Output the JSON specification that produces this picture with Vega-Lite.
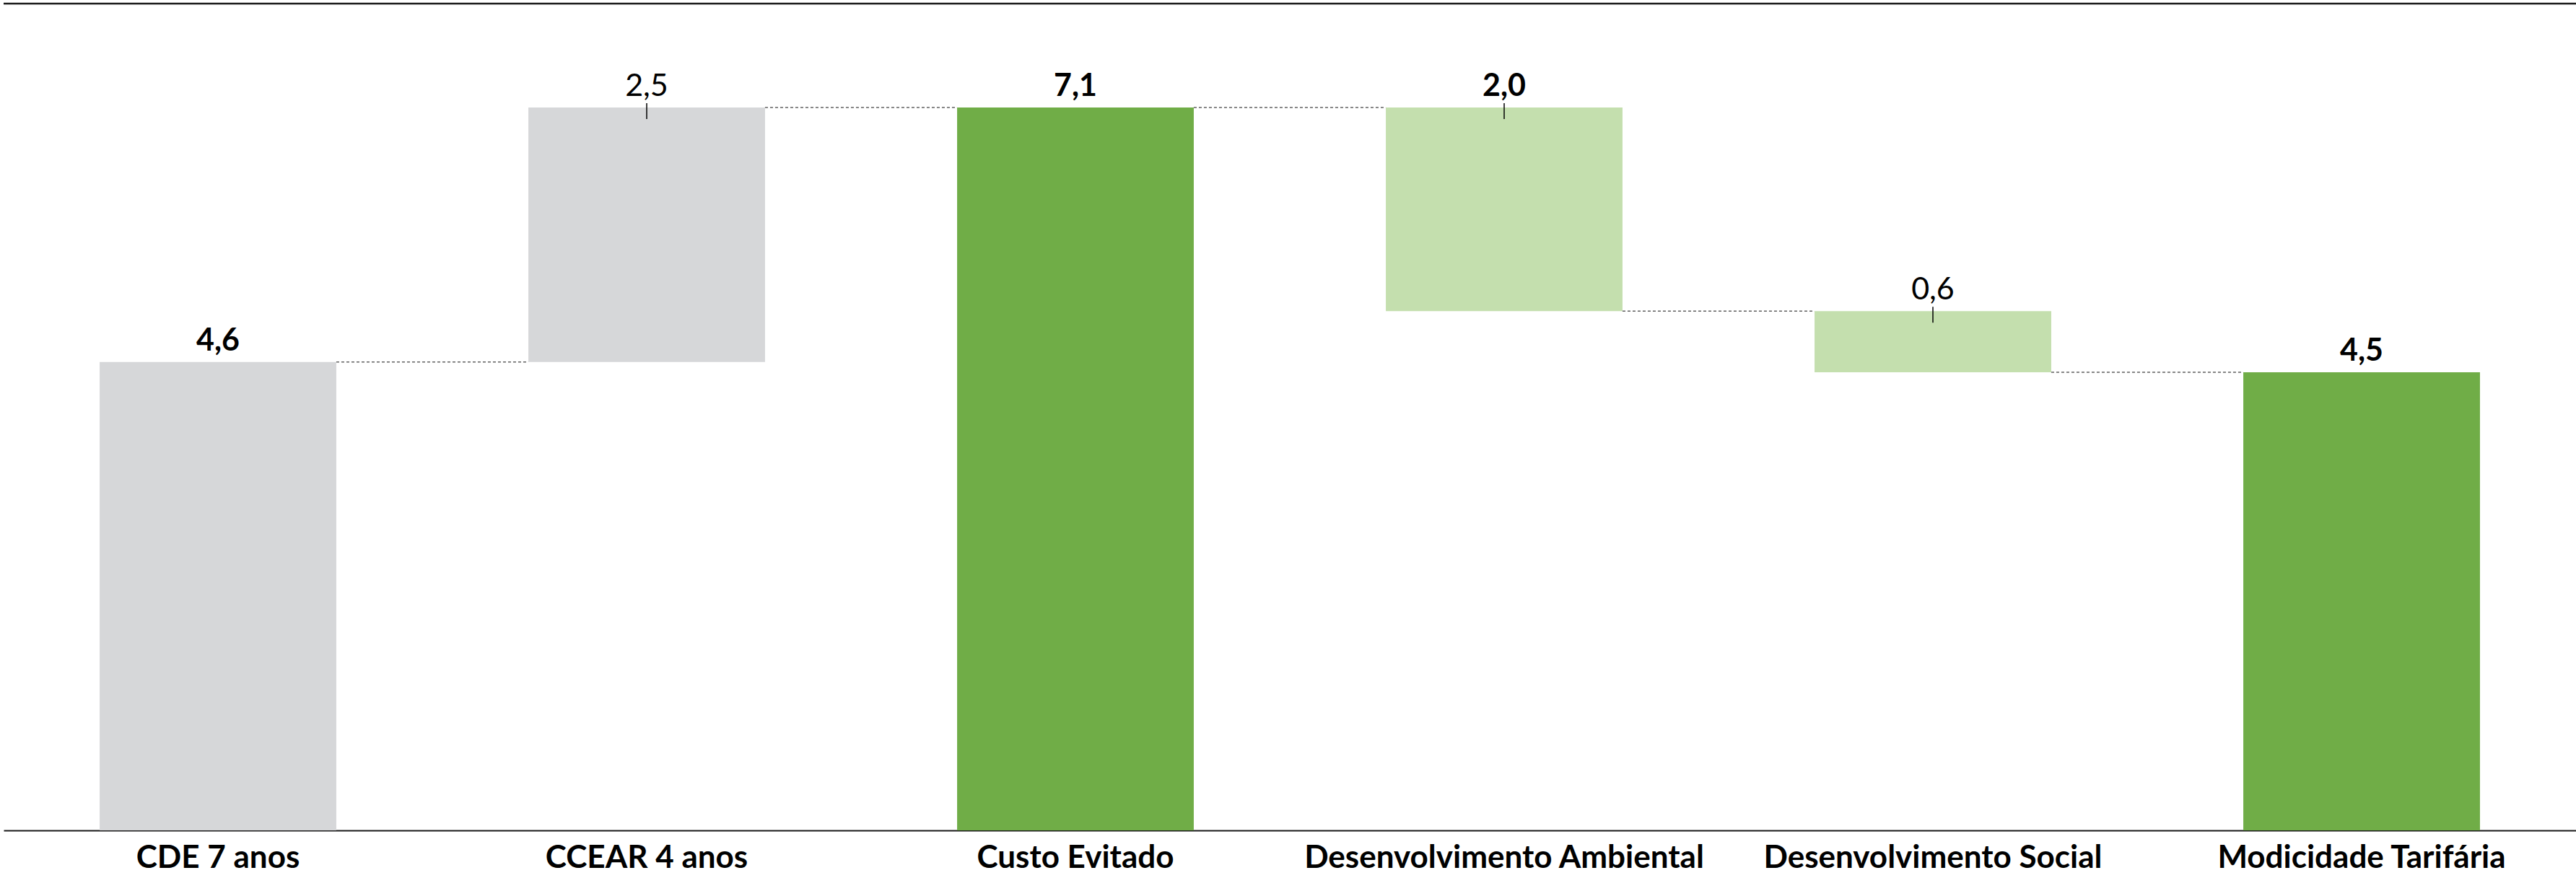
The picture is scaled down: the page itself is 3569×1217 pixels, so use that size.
{
  "$schema": "https://vega.github.io/schema/vega-lite/v6.json",
  "width": 3564,
  "height": 1146,
  "padding": {"left": 3, "top": 3, "right": 2, "bottom": 0},
  "background": "white",
  "config": {"view": {"stroke": null}, "font": "Lato"},
  "datasets": {
    "barras": [
      {"categoria": "CDE 7 anos", "base": 0, "topo": 4.6, "rotulo": "4,6", "grupo": "cinza", "tipo": "total", "destaque": "sim"},
      {"categoria": "CCEAR 4 anos", "base": 4.6, "topo": 7.1, "rotulo": "2,5", "grupo": "cinza", "tipo": "variação", "destaque": "não"},
      {"categoria": "Custo Evitado", "base": 0, "topo": 7.1, "rotulo": "7,1", "grupo": "verde", "tipo": "total", "destaque": "sim"},
      {"categoria": "Desenvolvimento Ambiental", "base": 5.1, "topo": 7.1, "rotulo": "2,0", "grupo": "verde claro", "tipo": "variação", "destaque": "sim"},
      {"categoria": "Desenvolvimento Social", "base": 4.5, "topo": 5.1, "rotulo": "0,6", "grupo": "verde claro", "tipo": "variação", "destaque": "não"},
      {"categoria": "Modicidade Tarifária", "base": 0, "topo": 4.5, "rotulo": "4,5", "grupo": "verde", "tipo": "total", "destaque": "sim"}
    ],
    "conectores": [
      {"de": "CDE 7 anos", "para": "CCEAR 4 anos", "nivel": 4.6},
      {"de": "CCEAR 4 anos", "para": "Custo Evitado", "nivel": 7.1},
      {"de": "Custo Evitado", "para": "Desenvolvimento Ambiental", "nivel": 7.1},
      {"de": "Desenvolvimento Ambiental", "para": "Desenvolvimento Social", "nivel": 5.1},
      {"de": "Desenvolvimento Social", "para": "Modicidade Tarifária", "nivel": 4.5}
    ],
    "moldura": [{"limite": 8.12}]
  },
  "layer": [
    {
      "data": {"name": "barras"},
      "mark": {"type": "bar"},
      "encoding": {
        "x": {
          "field": "categoria", "type": "nominal", "title": null,
          "sort": ["CDE 7 anos", "CCEAR 4 anos", "Custo Evitado", "Desenvolvimento Ambiental", "Desenvolvimento Social", "Modicidade Tarifária"],
          "scale": {
            "domain": ["CDE 7 anos", "CCEAR 4 anos", "Custo Evitado", "Desenvolvimento Ambiental", "Desenvolvimento Social", "Modicidade Tarifária"],
            "paddingInner": 0.448, "paddingOuter": 0.224
          },
          "axis": {
            "title": null, "domainColor": "#1a1a1a", "domainWidth": 2, "ticks": false,
            "labelFont": "Lato", "labelFontSize": 44, "labelFontWeight": "bold", "labelColor": "#000000",
            "labelPadding": 16, "labelAngle": 0, "labelLimit": 0, "grid": false
          }
        },
        "y": {"field": "base", "type": "quantitative", "title": null, "scale": {"domain": [0, 8.12], "nice": false, "zero": true}, "axis": null},
        "y2": {"field": "topo"},
        "color": {
          "field": "grupo", "type": "nominal", "legend": null,
          "scale": {"domain": ["cinza", "verde", "verde claro"], "range": ["#D6D7D9", "#70AD47", "#C4DFAE"]}
        }
      }
    },
    {
      "data": {"name": "conectores"},
      "mark": {"type": "rule", "color": "#606060", "strokeWidth": 1.5, "strokeDash": [4, 3]},
      "encoding": {
        "x": {"field": "de", "type": "nominal", "title": null, "bandPosition": 1},
        "x2": {"field": "para", "bandPosition": 0},
        "y": {"field": "nivel", "type": "quantitative", "title": null}
      }
    },
    {
      "data": {"name": "barras"},
      "transform": [{"filter": "datum.tipo === 'variação'"}],
      "mark": {"type": "rule", "color": "#000000", "strokeWidth": 1.5, "yOffset": -6, "y2Offset": 16},
      "encoding": {
        "x": {"field": "categoria", "type": "nominal", "title": null},
        "y": {"field": "topo", "type": "quantitative", "title": null},
        "y2": {"field": "topo"}
      }
    },
    {
      "data": {"name": "barras"},
      "transform": [{"filter": "datum.destaque === 'sim'"}],
      "mark": {"type": "text", "baseline": "alphabetic", "dy": -16, "fontSize": 43, "fontWeight": "bold", "font": "Lato", "color": "#000000"},
      "encoding": {
        "x": {"field": "categoria", "type": "nominal", "title": null},
        "y": {"field": "topo", "type": "quantitative", "title": null},
        "text": {"field": "rotulo"}
      }
    },
    {
      "data": {"name": "barras"},
      "transform": [{"filter": "datum.destaque === 'não'"}],
      "mark": {"type": "text", "baseline": "alphabetic", "dy": -16, "fontSize": 43, "fontWeight": "normal", "font": "Lato", "color": "#000000"},
      "encoding": {
        "x": {"field": "categoria", "type": "nominal", "title": null},
        "y": {"field": "topo", "type": "quantitative", "title": null},
        "text": {"field": "rotulo"}
      }
    },
    {
      "data": {"name": "moldura"},
      "mark": {"type": "rule", "color": "#1a1a1a", "strokeWidth": 2.5},
      "encoding": {"y": {"field": "limite", "type": "quantitative", "title": null}}
    }
  ]
}
